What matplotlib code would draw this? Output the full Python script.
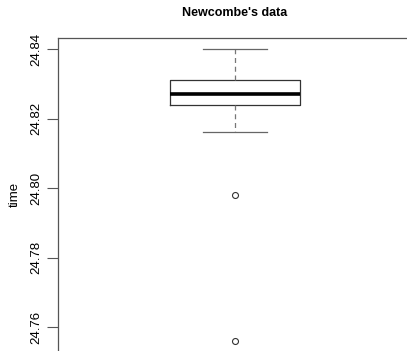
import matplotlib
matplotlib.use("Agg")
import matplotlib.pyplot as plt

# Newcombe's light passage times (summary)
q1 = 24.824
median = 24.827
q3 = 24.831
whisker_low = 24.816
whisker_high = 24.840
outliers = [24.798, 24.756]

yticks = [24.76, 24.78, 24.80, 24.82, 24.84]
title = "Newcombe's data"
ylabel = "time"

plt.rcParams['font.family'] = ['Liberation Sans', 'DejaVu Sans']

W, H = 407, 351
fig = plt.figure(figsize=(W / 100, H / 100), dpi=100)

# axes frame runs off the right/bottom edges of the image
left_px, top_px, right_px = 58, 38, 412
ax = fig.add_axes([left_px / W, 0, (right_px - left_px) / W, 1 - top_px / H])

stats = [dict(q1=q1, med=median, q3=q3, whislo=whisker_low,
              whishi=whisker_high, fliers=outliers)]
ax.bxp(stats, positions=[1], widths=130 / 354, capwidths=64 / 354,
       boxprops=dict(color="#333333", linewidth=0.9),
       medianprops=dict(color="black", linewidth=2.6),
       whiskerprops=dict(color="#777777", linewidth=0.9, linestyle=(0, (4, 3))),
       capprops=dict(color="#666666", linewidth=0.9),
       flierprops=dict(marker="o", markersize=4.3, markerfacecolor="none",
                       markeredgecolor="#333333", markeredgewidth=0.8))

ax.set_xlim(0.5, 1.5)
ax.set_ylim(24.7531, 24.8432)
ax.set_xticks([])
ax.set_yticks(yticks)
ax.set_yticklabels([f"{v:.2f}" for v in yticks], rotation=90, va="center",
                   fontsize=9.5)
ax.tick_params(axis="y", length=8, width=0.8, color="#555555", pad=3)
for s in ("right", "bottom"):
    ax.spines[s].set_visible(False)
for s in ("left", "top"):
    ax.spines[s].set_color("#555555")
    ax.spines[s].set_linewidth(0.9)

fig.text(235 / W, 1 - 13 / H, title, ha="center", va="center",
         fontsize=9, fontweight="bold")
fig.text(15 / W, 1 - 194 / H, ylabel, ha="center", va="center",
         rotation=90, fontsize=9.5)

fig.savefig("out.png", dpi=100)
